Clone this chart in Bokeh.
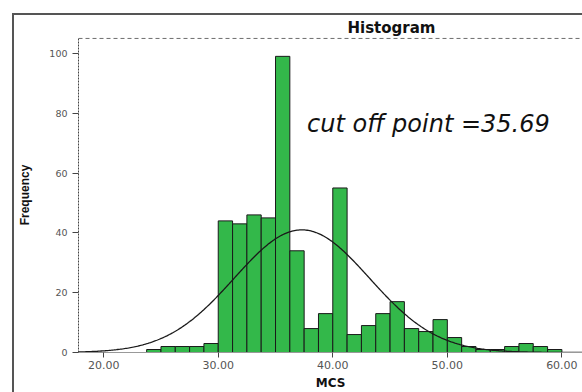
import numpy as np
from bokeh.plotting import figure
from bokeh.models import Span, Label, FixedTicker, NumeralTickFormatter, InlineStyleSheet
from bokeh.embed import file_html
from bokeh.resources import INLINE

# ---- data ----
bin_left = [23.75, 25.00, 26.25, 27.50, 28.75,
            30.00, 31.25, 32.50, 33.75, 35.00, 36.25, 37.50, 38.75,
            40.00, 41.25, 42.50, 43.75, 45.00, 46.25, 47.50, 48.75,
            50.00, 51.25, 52.50, 53.75, 55.00, 56.25, 57.50, 58.75]
bin_width = 1.25
counts = [1, 2, 2, 2, 3,
          44, 43, 46, 45, 99, 34, 8, 13,
          55, 6, 9, 13, 17, 8, 7, 11,
          5, 2, 1, 1, 2, 3, 2, 1]
x_ticks = [20, 30, 40, 50, 60]
y_ticks = [0, 20, 40, 60, 80, 100]
curve_mean = 37.3
curve_sd = 5.9
annotation_text = "cut off point =35.69"

bin_right = [b + bin_width for b in bin_left]
n_total = sum(counts)

p = figure(width=582, height=392, x_range=(17.8, 61.8), y_range=(0, 105.3),
           output_backend="svg", toolbar_location=None,
           min_border_left=78, min_border_right=0, min_border_top=37, min_border_bottom=38)
p.outline_line_color = None
p.xgrid.visible = False
p.ygrid.visible = False
p.background_fill_color = "white"
p.border_fill_color = "white"

# outer frame drawn with CSS over the canvas
p.stylesheets = [InlineStyleSheet(css=(
    ":host { position: relative; }"
    ":host::after { content: ''; position: absolute; left: 12px; top: 13px; "
    "right: -20px; bottom: -20px; border-left: 2px solid #555; border-top: 2px solid #555; "
    "pointer-events: none; z-index: 10; }"))]

# title
p.title.text = "Histogram"
p.title.align = "left"
p.title.offset = 269
p.title.standoff = 1
p.title.text_font = "DejaVu Sans"
p.title.text_font_style = "bold"
p.title.text_font_size = "15px"
p.title.text_color = "#111"

p.quad(left=bin_left, right=bin_right, bottom=0, top=counts,
       fill_color="#33B84A", line_color="#1a1a1a", line_width=1)

xs = np.linspace(17.8, 61.8, 400)
ys = n_total * bin_width / (curve_sd * np.sqrt(2 * np.pi)) * np.exp(-0.5 * ((xs - curve_mean) / curve_sd) ** 2)
p.line(xs, ys, line_color="#1a1a1a", line_width=1.3)

p.add_layout(Span(location=105.0, dimension="width", line_color="#666",
                  line_dash="4 3", line_width=1))

# axes
p.xaxis.ticker = FixedTicker(ticks=x_ticks)
p.xaxis.formatter = NumeralTickFormatter(format="0.00")
p.yaxis.ticker = FixedTicker(ticks=y_ticks)
for ax in (p.xaxis, p.yaxis):
    ax.minor_tick_line_color = None
    ax.major_tick_in = 0
    ax.major_tick_line_color = "#444"
    ax.major_label_text_color = "#555"
    ax.major_label_text_font = "DejaVu Sans"
p.xaxis.major_tick_out = 5
p.yaxis.major_tick_out = 6
p.xaxis.major_label_text_font_size = "11px"
p.yaxis.major_label_text_font_size = "9.5px"
p.xaxis.major_label_standoff = 3
p.yaxis.major_label_standoff = 5
p.xaxis.axis_line_color = "#999"
p.yaxis.axis_line_color = "#444"
p.yaxis.axis_line_dash = "2 1"

p.yaxis.axis_label = "Frequency"
p.yaxis.axis_label_text_font = "Liberation Sans"
p.yaxis.axis_label_text_font_style = "bold"
p.yaxis.axis_label_text_font_size = "12px"
p.yaxis.axis_label_text_color = "#111"
p.yaxis.axis_label_standoff = 14

p.xaxis.axis_label = "MCS"
p.xaxis.axis_label_text_font = "DejaVu Sans"
p.xaxis.axis_label_text_font_style = "bold"
p.xaxis.axis_label_text_font_size = "12px"
p.xaxis.axis_label_text_color = "#111"
p.xaxis.axis_label_standoff = 4

p.add_layout(Label(x=37.75, y=76.5, text=annotation_text, text_align="left", text_baseline="middle",
                   text_font="DejaVu Sans", text_font_style="italic", text_font_size="24px",
                   text_color="#111"))

open("out.html", "w").write(file_html(p, INLINE))
